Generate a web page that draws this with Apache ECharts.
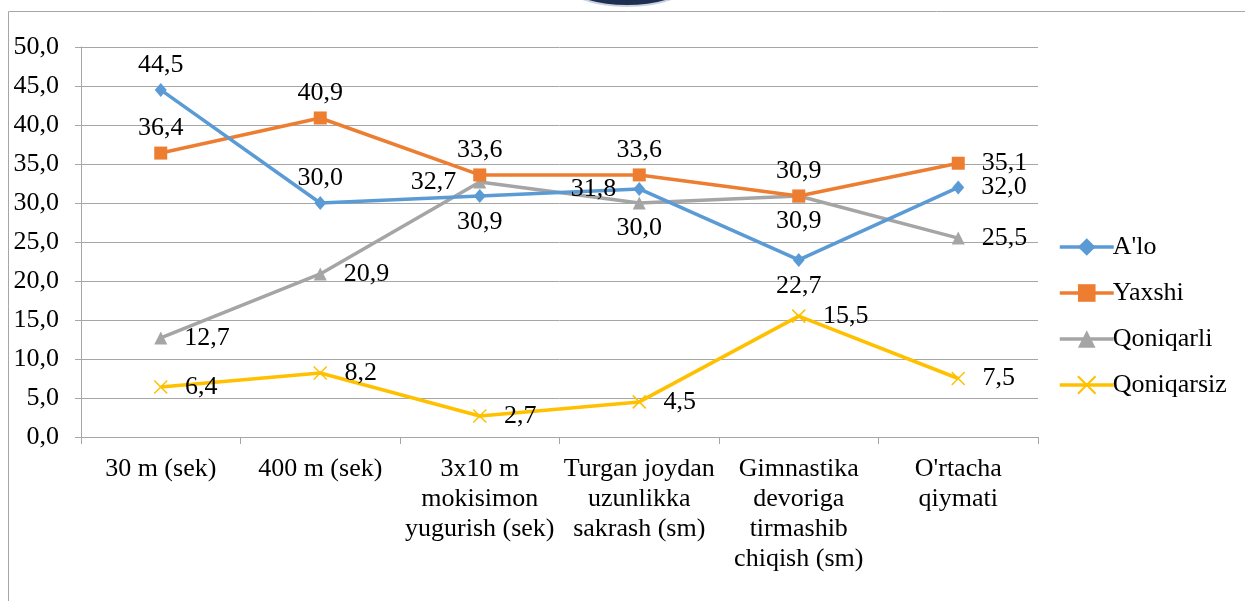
<!DOCTYPE html>
<html><head><meta charset="utf-8">
<script src="https://cdn.jsdelivr.net/npm/echarts@6/dist/echarts.min.js"></script>
<style>html,body{margin:0;padding:0;background:#fff}#c{width:1245px;height:601px}</style>
</head><body><div id="c"></div>
<script>
const categories = ['30 m (sek)', '400 m (sek)', '3x10 m\nmokisimon\nyugurish (sek)', 'Turgan joydan\nuzunlikka\nsakrash (sm)', 'Gimnastika\ndevoriga\ntirmashib\nchiqish (sm)', "O'rtacha\nqiymati"];
const seriesNames = ["A'lo", 'Yaxshi', 'Qoniqarli', 'Qoniqarsiz'];
const aloValues = [44.5, 30.0, 30.9, 31.8, 22.7, 32.0];
const yaxshiValues = [36.4, 40.9, 33.6, 33.6, 30.9, 35.1];
const qoniqarliValues = [12.7, 20.9, 32.7, 30.0, 30.9, 25.5];
const qoniqarsizValues = [6.4, 8.2, 2.7, 4.5, 15.5, 7.5];
const yTicks = {min: 0, max: 50, interval: 5};

// label placement (style only)
const labelPlacement = [
  ['top', 'top', 'bottom', 'left', 'bottom', 'right'],
  ['top', 'top', 'top', 'top', 'top', 'right'],
  ['right', 'right', 'left', 'bottom', 'bottom', 'right'],
  ['right', 'right', 'right', 'right', 'right', 'right']
];
const colors = ['#5B9BD5', '#ED7D31', '#A5A5A5', '#FFC000'];
const symbols = ['diamond', 'rect', 'triangle', 'path://M0,0L10,10M10,0L0,10'];
const symbolSizes = [[12, 14], 13, 13, 13];
const allValues = [aloValues, yaxshiValues, qoniqarliValues, qoniqarsizValues];
const FONT = '"Liberation Serif", "Times New Roman", serif';
const FS = 26;
const fmt = v => v.toFixed(1).replace('.', ',');
const distFor = p => p === 'right' ? 17 : p === 'left' ? 17 : p === 'bottom' ? 6 : 5;

const series = allValues.map((vals, si) => ({
  name: seriesNames[si],
  type: 'line',
  symbol: symbols[si],
  symbolSize: symbolSizes[si],
  showAllSymbol: true,
  lineStyle: {color: colors[si], width: 3.5},
  itemStyle: si === 3 ? {color: 'rgba(0,0,0,0)', borderColor: colors[si], borderWidth: 1.5} : {color: colors[si], borderWidth: 0},
  z: 10 - si,
  data: vals.map((v, i) => ({
    value: v,
    label: {position: labelPlacement[si][i], distance: distFor(labelPlacement[si][i])}
  })),
  label: {show: true, formatter: p => fmt(p.value), color: '#000', fontFamily: FONT, fontSize: FS, lineHeight: 26},
  emphasis: {disabled: true},
  animation: false
}));

const chart = echarts.init(document.getElementById('c'), null, {renderer: 'canvas'});
chart.setOption({
  animation: false,
  backgroundColor: '#fff',
  textStyle: {fontFamily: FONT},
  grid: {left: 81, right: 207, top: 47, bottom: 164, containLabel: false},
  legend: {
    orient: 'vertical', left: 1053, top: 229,
    itemWidth: 54, itemHeight: 22, itemGap: 20,
    lineStyle: {width: 3.5},
    textStyle: {fontFamily: FONT, fontSize: FS, lineHeight: 26, color: '#000', padding: [0, 0, 0, -6]},
    data: seriesNames
  },
  xAxis: {
    type: 'category', data: categories, boundaryGap: true,
    axisLine: {lineStyle: {color: '#a6a6a6', width: 1}},
    axisTick: {show: true, length: 7, lineStyle: {color: '#a6a6a6'}},
    axisLabel: {interval: 0, color: '#000', fontFamily: FONT, fontSize: FS, lineHeight: 30, margin: 17, align: 'center'}
  },
  yAxis: {
    type: 'value', min: yTicks.min, max: yTicks.max, interval: yTicks.interval,
    axisLine: {show: true, lineStyle: {color: '#a6a6a6', width: 1}},
    axisTick: {show: true, length: 6, lineStyle: {color: '#a6a6a6'}},
    splitLine: {lineStyle: {color: '#a6a6a6', width: 1}},
    axisLabel: {formatter: v => fmt(v), color: '#000', fontFamily: FONT, fontSize: FS, margin: 22}
  },
  graphic: [
    {type: 'rect', shape: {x: 8.5, y: 11.5, width: 1300, height: 700}, style: {fill: 'none', stroke: '#a6a6a6', lineWidth: 1}, silent: true, z: 0},
    {type: 'ellipse', shape: {cx: 627, cy: -19, rx: 64, ry: 25}, style: {fill: '#1f2f52', stroke: '#c9d3e0', lineWidth: 2}, silent: true, z: 1}
  ],
  series: series
});
</script></body></html>
